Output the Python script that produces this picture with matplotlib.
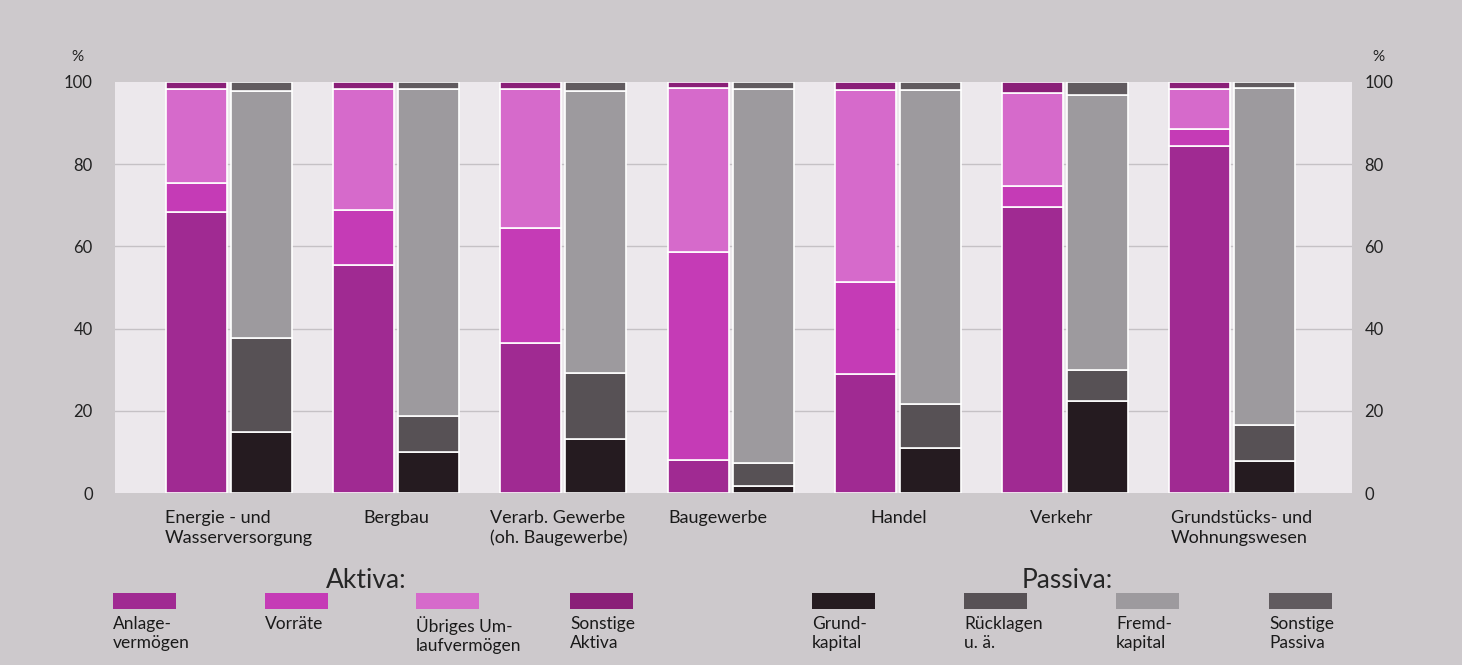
import matplotlib.pyplot as plt
from matplotlib.patches import Rectangle
import numpy as np

plt.rcParams["font.family"] = ["Lato", "DejaVu Sans"]

# Data (percent of balance sheet total)
branches = [
    "Energie - und\nWasserversorgung",
    "Bergbau",
    "Verarb. Gewerbe\n(oh. Baugewerbe)",
    "Baugewerbe",
    "Handel",
    "Verkehr",
    "Grundstücks- und\nWohnungswesen",
]
anlagevermoegen = [68.4, 55.5, 36.5, 8.0, 29.0, 69.6, 84.4]
vorraete = [7.0, 13.4, 28.0, 50.6, 22.3, 5.1, 4.2]
uebriges_umlauf = [22.9, 29.4, 33.8, 39.9, 46.8, 22.6, 9.7]
sonstige_aktiva = [1.7, 1.7, 1.7, 1.5, 1.9, 2.7, 1.7]

grundkapital = [14.8, 10.0, 13.1, 1.7, 11.0, 22.4, 7.8]
ruecklagen = [22.9, 8.7, 16.1, 5.6, 10.7, 7.5, 8.7]
fremdkapital = [60.1, 79.6, 68.6, 91.0, 76.3, 66.9, 82.0]
sonstige_passiva = [2.2, 1.7, 2.2, 1.7, 2.0, 3.2, 1.5]

yticks = [0, 20, 40, 60, 80, 100]

aktiva_labels = ["Anlage-\nvermögen", "Vorräte", "Übriges Um-\nlaufvermögen", "Sonstige\nAktiva"]
passiva_labels = ["Grund-\nkapital", "Rücklagen\nu. ä.", "Fremd-\nkapital", "Sonstige\nPassiva"]

aktiva_colors = ["#a02a92", "#c53bb6", "#d66acb", "#8a1f78"]
passiva_colors = ["#251b20", "#575155", "#9d9a9e", "#615b5f"]

fig = plt.figure(figsize=(14.62, 6.65), dpi=100, facecolor="#cdc9cc")
ax = fig.add_axes([0.0787, 0.2586, 0.8461, 0.6181])
ax.set_facecolor("#ece8ec")

x = np.arange(len(branches))
width = 0.365
offset = 0.1945

aktiva = [anlagevermoegen, vorraete, uebriges_umlauf, sonstige_aktiva]
passiva = [grundkapital, ruecklagen, fremdkapital, sonstige_passiva]

bottom = np.zeros(len(branches))
for vals, col in zip(aktiva, aktiva_colors):
    ax.bar(x - offset, vals, width, bottom=bottom, color=col,
           edgecolor="white", linewidth=1.2, zorder=2)
    bottom += np.array(vals)

bottom = np.zeros(len(branches))
for vals, col in zip(passiva, passiva_colors):
    ax.bar(x + offset, vals, width, bottom=bottom, color=col,
           edgecolor="white", linewidth=1.2, zorder=2)
    bottom += np.array(vals)

ax.set_xlim(-0.682, 6.718)
ax.set_ylim(0, 100)
ax.set_yticks(yticks)
ax.set_xticks([])
for y in yticks[1:-1]:
    ax.axhline(y, color="#c5c1c5", linewidth=1, zorder=1)

for s in ax.spines.values():
    s.set_visible(False)
ax.tick_params(axis="y", length=0, labelsize=12, colors="#222222", pad=16)

# right hand scale
ax2 = ax.twinx()
ax2.set_ylim(0, 100)
ax2.set_yticks(yticks)
for s in ax2.spines.values():
    s.set_visible(False)
ax2.tick_params(axis="y", length=0, labelsize=12, colors="#222222", pad=9)

# percent signs
fig.text(77 / 1462, 1 - 57 / 665, "%", fontsize=11, ha="center", va="center", color="#222222")
fig.text(1378 / 1462, 1 - 57 / 665, "%", fontsize=11, ha="center", va="center", color="#222222")

# category labels
label_offsets = [-0.383, -0.197, -0.437, -0.371, -0.162, -0.209, -0.365]
for xi, name, off in zip(x, branches, label_offsets):
    ax.text(xi + off, -4.2, name, ha="left", va="top", fontsize=13,
            color="#1a1a1a", linespacing=1.25)

# legend
def px(xp, yp):
    return xp / 1462, 1 - yp / 665

fig.text(*px(326, 581), "Aktiva:", fontsize=19, va="center", ha="left", color="#262626")
fig.text(*px(1022, 581), "Passiva:", fontsize=19, va="center", ha="left", color="#262626")

aktiva_x = [113, 265, 416, 570]
passiva_x = [812, 964, 1116, 1269]
for xs, labels, cols in [(aktiva_x, aktiva_labels, aktiva_colors), (passiva_x, passiva_labels, passiva_colors)]:
    for xp, lab, col in zip(xs, labels, cols):
        x0, y0 = px(xp, 609)
        fig.patches.append(Rectangle((x0, y0), 63 / 1462, 16 / 665, transform=fig.transFigure,
                                     facecolor=col, edgecolor="none"))
        fig.text(*px(xp, 616), lab, fontsize=12.5, ha="left", va="top", color="#1a1a1a", linespacing=1.2)

fig.savefig("out.png", dpi=100, facecolor=fig.get_facecolor())
